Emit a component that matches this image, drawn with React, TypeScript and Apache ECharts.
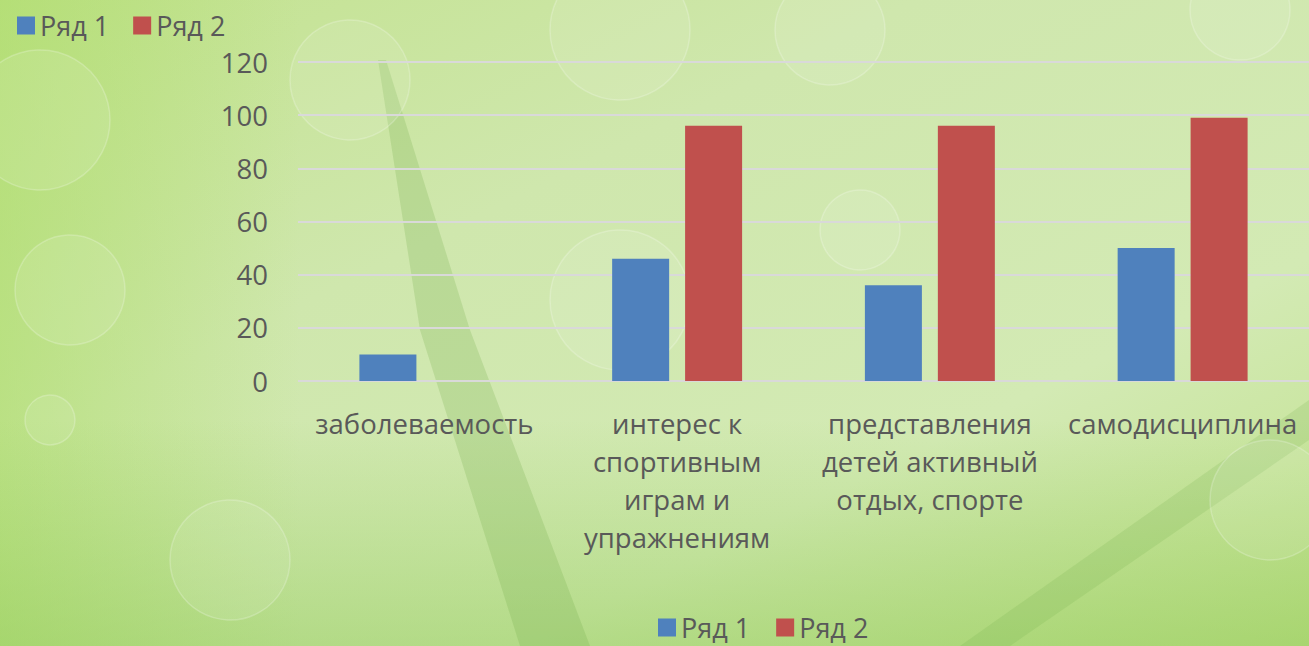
import React, { useEffect, useRef } from "react";
import * as echarts from "echarts";

const categories = [
  "заболеваемость",
  "интерес к\nспортивным\nиграм и\nупражнениям",
  "представления\nдетей активный\nотдых, спорте",
  "самодисциплина",
];
const series1Name = "Ряд 1";
const series2Name = "Ряд 2";
const series1 = [10, 46, 36, 50];
const series2 = [0, 96, 96, 99];
const yTicks = { min: 0, max: 120, interval: 20 };

const FONT = "'Open Sans', 'Noto Sans', sans-serif";
const TEXT = "#595959";

export default function App() {
  const ref = useRef<HTMLDivElement>(null);
  useEffect(() => {
    document.body.style.margin = "0";
    const chart = echarts.init(ref.current!, null, { renderer: "svg" });
    const bokeh = [
      [40, 120, 70], [350, 80, 60], [620, 30, 70], [830, 30, 55], [1240, 10, 50],
      [70, 290, 55], [230, 560, 60], [860, 230, 40], [620, 300, 70], [1270, 500, 60],
      [50, 420, 25],
    ];
    chart.setOption({
      animation: false,
      backgroundColor: {
        type: "linear", x: 0, y: 0, x2: 1, y2: 1,
        colorStops: [
          { offset: 0, color: "#c2e28e" },
          { offset: 0.35, color: "#cfe7ad" },
          { offset: 0.7, color: "#d3eab4" },
          { offset: 1, color: "#bfe08a" },
        ],
      },
      graphic: [
        {
          type: "rect", z: -10, silent: true,
          shape: { x: 0, y: 0, width: 300, height: 646 },
          style: {
            fill: {
              type: "linear", x: 0, y: 0, x2: 1, y2: 0,
              colorStops: [
                { offset: 0, color: "rgba(170,220,100,0.55)" },
                { offset: 1, color: "rgba(170,220,100,0)" },
              ],
            },
          },
        },
        {
          type: "rect", z: -10, silent: true,
          shape: { x: 0, y: 420, width: 1309, height: 226 },
          style: {
            fill: {
              type: "linear", x: 0, y: 0, x2: 0, y2: 1,
              colorStops: [
                { offset: 0, color: "rgba(140,200,80,0)" },
                { offset: 1, color: "rgba(140,200,80,0.45)" },
              ],
            },
          },
        },
        {
          type: "polygon", z: -9, silent: true,
          shape: { points: [[378, 60], [386, 60], [470, 330], [590, 646], [520, 646], [420, 330]] },
          style: { fill: "rgba(110,170,70,0.22)" },
        },
        {
          type: "polygon", z: -9, silent: true,
          shape: { points: [[960, 646], [1309, 400], [1309, 440], [1010, 646]] },
          style: { fill: "rgba(110,170,70,0.18)" },
        },
        ...bokeh.map(([cx, cy, r]) => ({
          type: "circle", z: -9, silent: true,
          shape: { cx, cy, r },
          style: { fill: "rgba(255,255,255,0.1)", stroke: "rgba(255,255,255,0.22)", lineWidth: 1.5 },
        })),
      ],
      legend: [
        {
          left: 12, top: 7,
          icon: "rect", itemWidth: 18, itemHeight: 18, itemGap: 24,
          textStyle: { color: TEXT, fontSize: 27, fontFamily: FONT },
          data: [series1Name, series2Name],
        },
        {
          left: 653, bottom: 0,
          icon: "rect", itemWidth: 18, itemHeight: 18, itemGap: 26,
          textStyle: { color: TEXT, fontSize: 27, fontFamily: FONT },
          data: [series1Name, series2Name],
        },
      ],
      grid: { left: 298, width: 1019, top: 62, height: 319, containLabel: false },
      xAxis: {
        type: "category",
        data: categories,
        axisLine: { show: false },
        axisTick: { show: false },
        axisLabel: {
          color: TEXT, fontSize: 27.5, fontFamily: FONT, lineHeight: 38,
          margin: 23, interval: 0,
        },
      },
      yAxis: {
        type: "value",
        min: yTicks.min, max: yTicks.max, interval: yTicks.interval,
        axisLine: { show: false },
        axisTick: { show: false },
        splitLine: { lineStyle: { color: "#d9d9d9", width: 2 } },
        axisLabel: { color: TEXT, fontSize: 27.5, fontFamily: FONT, margin: 30 },
      },
      series: [
        {
          name: series1Name, type: "bar", data: series1, barWidth: 57, barGap: "28%",
          itemStyle: { color: "#4f81bd" },
        },
        {
          name: series2Name, type: "bar", data: series2, barWidth: 57,
          itemStyle: { color: "#c0504d" },
        },
      ],
    });
    return () => chart.dispose();
  }, []);
  return <div ref={ref} style={{ position: "absolute", left: 0, top: 0, width: 1309, height: 646 }} />;
}
